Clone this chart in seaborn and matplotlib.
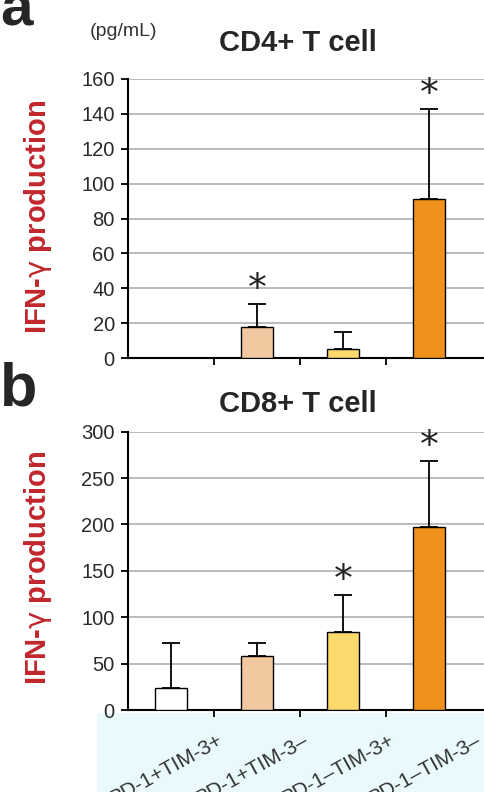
import matplotlib
matplotlib.use("Agg")
import matplotlib.pyplot as plt
import seaborn as sns
import pandas as pd
import numpy as np

categories = ["PD-1+TIM-3+", "PD-1+TIM-3\u2013", "PD-1\u2013TIM-3+", "PD-1\u2013TIM-3\u2013"]
cd4_values = [0, 18, 5, 91]
cd4_err = [0, 13, 10, 52]
cd4_sig = [False, True, False, True]
cd8_values = [24, 58, 84, 197]
cd8_err = [48, 14, 40, 71]
cd8_sig = [False, False, True, True]
bar_colors = ["#ffffff", "#f2c8a0", "#fcd96c", "#f0911c"]

sns.set_theme(style="white")
plt.rcParams["font.family"] = ["Liberation Sans", "DejaVu Sans"]
plt.rcParams["mathtext.fontset"] = "custom"
plt.rcParams["mathtext.rm"] = "DejaVu Sans"

W, H = 485, 792
fig = plt.figure(figsize=(W / 100, H / 100), dpi=100)

def fx(px):
    return px / W

def fy(py):
    return 1 - py / H

# light blue band behind labels
band = plt.Rectangle((fx(97), 0), 1 - fx(97), fy(713), transform=fig.transFigure,
                     facecolor="#eafafc", edgecolor="none", zorder=-5)
fig.patches.append(band)

def panel(ax, values, errs, sig, ymax, ystep, star_off, show_xlabels, show_first):
    df = pd.DataFrame({"cat": categories, "val": values})
    sns.barplot(data=df, x="cat", y="val", hue="cat", palette=bar_colors, legend=False,
                ax=ax, width=0.37, edgecolor="black", linewidth=1.0, saturation=1, zorder=3)
    x = np.arange(len(categories))
    for i in range(len(categories)):
        if values[i] == 0 and errs[i] == 0:
            continue
        ax.errorbar(x[i], values[i], yerr=[[0], [errs[i]]], fmt="none", ecolor="black",
                    elinewidth=1.3, capsize=6.5, capthick=1.3, zorder=4)
        if sig[i]:
            ax.text(x[i], values[i] + errs[i] + star_off, "*", ha="center", va="center",
                    fontsize=27, family="DejaVu Sans", zorder=5, color="#222222")
    if not show_first:
        ax.patches[0].set_visible(False)
    ax.set_ylim(0, ymax)
    ax.set_xlim(-0.5, 3.65)
    ax.set_yticks(np.arange(0, ymax + 1, ystep))
    ax.yaxis.grid(True, color="#a8a8a8", linewidth=1.1, zorder=0)
    ax.set_axisbelow(True)
    ax.set_xticks([0.5, 1.5, 2.5])
    ax.set_xticklabels([])
    ax.tick_params(axis="x", which="both", bottom=True, direction="out", length=5, width=1.3, color="black")
    ax.tick_params(axis="y", which="both", left=True, direction="out", length=5, width=1.3,
                   color="black", labelsize=14.5, pad=4.5, labelcolor="#2a2a2a")
    for s in ["top", "right"]:
        ax.spines[s].set_visible(False)
    for s in ["left", "bottom"]:
        ax.spines[s].set_color("black")
        ax.spines[s].set_linewidth(1.5)
    ax.set_xlabel("")
    ax.set_ylabel("")
    ax.set_facecolor("none")
    if show_xlabels:
        for i, lab in enumerate(categories):
            ax.text(i + 0.53, -0.075, lab, transform=ax.get_xaxis_transform(), rotation=29,
                    rotation_mode="anchor", ha="right", va="top", fontsize=15, color="#333333")

ax1 = fig.add_axes([fx(128), fy(358), 1 - fx(128), fy(79) - fy(358)])
panel(ax1, cd4_values, cd4_err, cd4_sig, 160, 20, 8, False, False)
ax2 = fig.add_axes([fx(128), fy(710), 1 - fx(128), fy(431.7) - fy(710)])
panel(ax2, cd8_values, cd8_err, cd8_sig, 300, 50, 15, True, True)

# titles and labels
fig.text(fx(298), fy(43), "CD4+ T cell", ha="center", va="center", fontsize=21, fontweight="bold")
fig.text(fx(298), fy(404), "CD8+ T cell", ha="center", va="center", fontsize=21, fontweight="bold")
fig.text(fx(124), fy(32), "(pg/mL)", ha="center", va="center", fontsize=14, color="#333333")
fig.text(fx(0), fy(25), "a", ha="left", va="baseline", fontsize=42, fontweight="bold")
fig.text(fx(0), fy(405), "b", ha="left", va="baseline", fontsize=44, fontweight="bold")
red = "#c1272d"
ylab = r"IFN-$\mathrm{\gamma}$ production"
fig.text(fx(38), fy(217), ylab, rotation=90, ha="center", va="center",
         fontsize=21, fontweight="bold", color=red)
fig.text(fx(38), fy(568), ylab, rotation=90, ha="center", va="center",
         fontsize=21, fontweight="bold", color=red)

fig.savefig("out.png", dpi=100)
